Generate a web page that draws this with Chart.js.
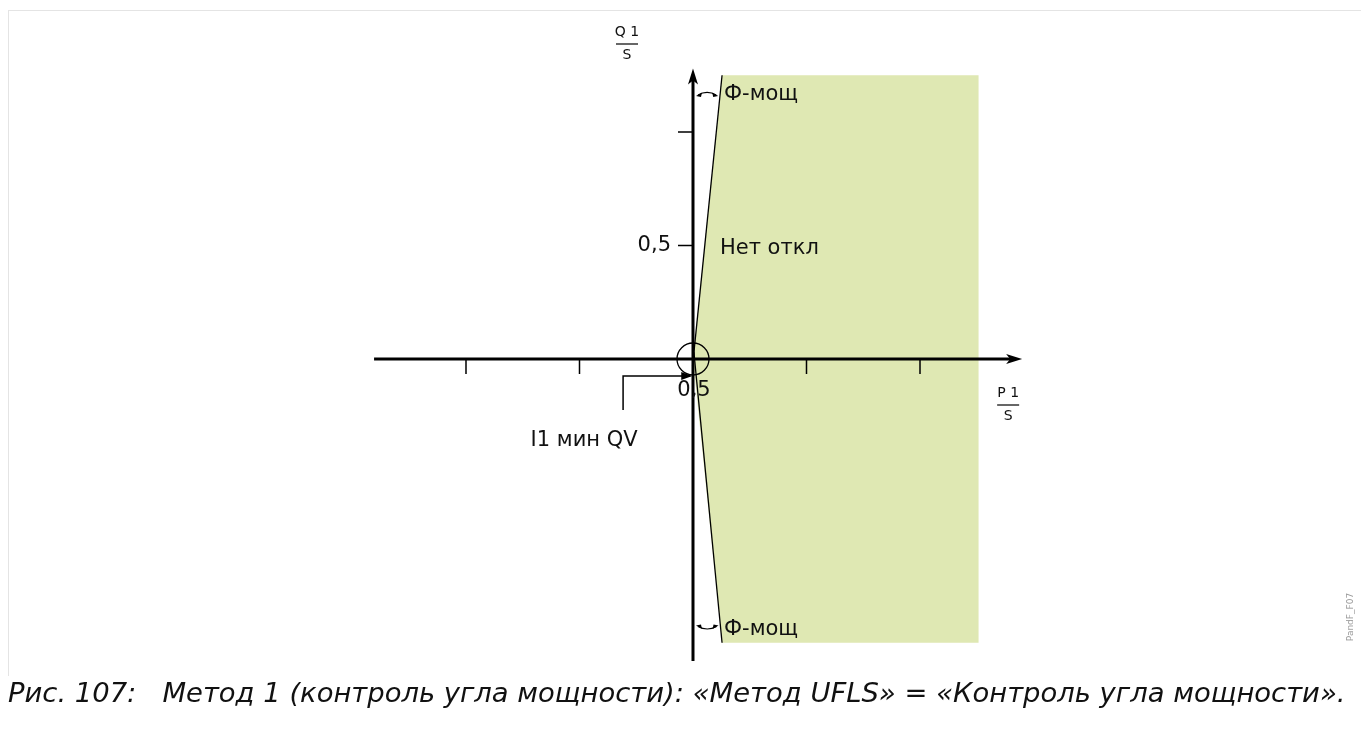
<!DOCTYPE html>
<html>
<head>
<meta charset="utf-8">
<script src="https://cdn.jsdelivr.net/npm/chart.js@4"></script>
<style>
    body { margin: 0; background: #fff; font-family: "DejaVu Sans", sans-serif; }
    #wrap { position: relative; width: 1361px; height: 756px; overflow: hidden; }
    #frame { position: absolute; left: 8px; top: 10px; width: 1400px; height: 665px; border-top: 1px solid #e4e4e4; border-left: 1px solid #e4e4e4; }
    #myChart { position: absolute; left: 0; top: 0; }
    #caption { position: absolute; left: 8px; top: 677px; font-size: 27.4px; font-style: italic; color: #111; white-space: pre; }
    #tag { position: absolute; left: 1320px; top: 612px; font-size: 9px; color: #999; transform: rotate(-90deg); transform-origin: center; width: 60px; text-align: center; }
</style>
</head>
<body>
<div id="wrap">
    <div id="frame"></div>
    <canvas id="myChart" width="1361" height="756"></canvas>
    <div id="caption">Рис. 107:   Метод 1 (контроль угла мощности): «Метод UFLS» = «Контроль угла мощности».</div>
    <div id="tag">PandF_F07</div>
</div>
<script>
// data (P/S and Q/S in per-unit)
const zoneX = [0, 0.128, 1.258, 1.258, 0.128, 0];
const zoneY = [0, 1.25, 1.25, -1.25, -1.25, 0];
const limitUpX = [-0.002, 0.128];
const limitUpY = [-0.03, 1.25];
const limitDnX = [0.004, 0.128];
const limitDnY = [0.03, -1.25];
const leaderX = [-0.308, -0.308, -0.012];
const leaderY = [-0.225, -0.075, -0.075];
const xTicks = [-1, -0.5, 0.5, 1];
const yTicks = [0.5, 1];
const xAxisRange = [-1.405, 1.45];
const yAxisRange = [-1.33, 1.28];
const angleY = [1.17, -1.185];

const pts = (xs, ys) => xs.map((x, i) => ({ x: x, y: ys[i] }));

const drawAxes = {
    id: 'drawAxes',
    afterDatasetsDraw(chart) {
        const ctx = chart.ctx;
        const sx = chart.scales.x, sy = chart.scales.y;
        const px = v => sx.getPixelForValue(v);
        const py = v => sy.getPixelForValue(v);
        const ox = px(0), oy = py(0);
        ctx.save();
        ctx.strokeStyle = '#000';
        ctx.fillStyle = '#000';

        // main axes
        ctx.lineWidth = 3;
        ctx.beginPath();
        ctx.moveTo(px(xAxisRange[0]), oy);
        ctx.lineTo(px(xAxisRange[1]) - 10, oy);
        ctx.moveTo(ox, py(yAxisRange[0]));
        ctx.lineTo(ox, py(yAxisRange[1]) + 10);
        ctx.stroke();
        // arrow heads
        const xe = px(xAxisRange[1]), ye = py(yAxisRange[1]);
        ctx.beginPath();
        ctx.moveTo(xe, oy);
        ctx.lineTo(xe - 16, oy - 5);
        ctx.lineTo(xe - 12, oy);
        ctx.lineTo(xe - 16, oy + 5);
        ctx.closePath();
        ctx.fill();
        ctx.beginPath();
        ctx.moveTo(ox, ye);
        ctx.lineTo(ox - 5, ye + 16);
        ctx.lineTo(ox, ye + 12);
        ctx.lineTo(ox + 5, ye + 16);
        ctx.closePath();
        ctx.fill();

        // ticks
        ctx.lineWidth = 1.5;
        ctx.beginPath();
        xTicks.forEach(v => { ctx.moveTo(px(v), oy); ctx.lineTo(px(v), oy + 15); });
        yTicks.forEach(v => { ctx.moveTo(ox - 15, py(v)); ctx.lineTo(ox, py(v)); });
        ctx.stroke();

        // leader arrow head
        const lx = px(leaderX[2]), ly = py(leaderY[2]);
        ctx.beginPath();
        ctx.moveTo(lx + 2, ly);
        ctx.lineTo(lx - 9, ly - 4);
        ctx.lineTo(lx - 9, ly + 4);
        ctx.closePath();
        ctx.fill();

        // angle arcs between the Q axis and the limit line
        ctx.lineWidth = 1.2;
        angleY.forEach(a => {
            const y = py(a);
            const x1 = ox + 3;
            const x2 = px(limitUpX[1] * Math.abs(a) / 1.25) - 2;
            const s = a > 0 ? 1 : -1;          // bow up at top, down at bottom
            ctx.beginPath();
            ctx.moveTo(x1 + 2, y + s * 1.5);
            ctx.quadraticCurveTo((x1 + x2) / 2, y - s * 3.5, x2 - 2, y + s * 1.5);
            ctx.stroke();
            // heads
            ctx.beginPath();
            ctx.moveTo(x1, y + s * 2.5);
            ctx.lineTo(x1 + 6, y - s * 1);
            ctx.lineTo(x1 + 5, y + s * 3.5);
            ctx.closePath();
            ctx.fill();
            ctx.beginPath();
            ctx.moveTo(x2, y + s * 2.5);
            ctx.lineTo(x2 - 6, y - s * 1);
            ctx.lineTo(x2 - 5, y + s * 3.5);
            ctx.closePath();
            ctx.fill();
        });

        // labels
        ctx.fillStyle = '#111';
        ctx.font = '21px "DejaVu Sans"';
        ctx.textBaseline = 'middle';
        ctx.textAlign = 'left';
        ctx.fillText('Ф-мощ', ox + 31, py(angleY[0]) + 1);
        ctx.fillText('Ф-мощ', ox + 31, py(angleY[1]) + 2);
        ctx.fillText('Нет откл', ox + 27, py(0.5) + 3);
        ctx.textAlign = 'right';
        ctx.fillText('0,5', ox - 22, py(0.5));
        ctx.textAlign = 'center';
        ctx.fillText('0,5', ox + 1, oy + 32);
        ctx.fillText('I1 мин QV', px(leaderX[0]) - 39, py(leaderY[0]) + 30);

        // fraction labels
        ctx.font = '14px "DejaVu Sans"';
        const frac = (top, cx, cy) => {
            ctx.fillText(top, cx, cy - 12);
            ctx.fillText('S', cx, cy + 11);
            ctx.lineWidth = 1.2;
            ctx.beginPath();
            ctx.moveTo(cx - 11, cy);
            ctx.lineTo(cx + 11, cy);
            ctx.stroke();
        };
        frac('Q 1', ox - 66, 44);
        frac('P 1', px(xAxisRange[1]) - 14, oy + 46);
        ctx.restore();
    }
};

new Chart(document.getElementById('myChart').getContext('2d'), {
    type: 'scatter',
    data: {
        datasets: [
            {
                data: [{ x: 0, y: 0 }],
                pointRadius: 16,
                pointStyle: 'circle',
                backgroundColor: 'rgba(0,0,0,0)',
                borderColor: '#000',
                borderWidth: 1.3,
            },
            {
                data: pts(limitUpX, limitUpY),
                showLine: true,
                borderColor: '#000',
                borderWidth: 1.3,
                pointRadius: 0,
            },
            {
                data: pts(limitDnX, limitDnY),
                showLine: true,
                borderColor: '#000',
                borderWidth: 1.3,
                pointRadius: 0,
            },
            {
                data: pts(leaderX, leaderY),
                showLine: true,
                borderColor: '#000',
                borderWidth: 1.5,
                pointRadius: 0,
            },
            {
                data: pts(zoneX, zoneY),
                showLine: true,
                fill: 'shape',
                backgroundColor: '#dfe8b3',
                borderWidth: 0,
                pointRadius: 0,
            },
        ]
    },
    options: {
        responsive: false,
        animation: false,
        layout: { padding: 0, autoPadding: false },
        plugins: {
            legend: { display: false },
            tooltip: { enabled: false },
        },
        scales: {
            x: { type: 'linear', display: false, min: -3.05286, max: 2.94273 },
            y: { type: 'linear', display: false, min: -1.74890, max: 1.58150 },
        },
    },
    plugins: [drawAxes],
});
</script>
</body>
</html>
